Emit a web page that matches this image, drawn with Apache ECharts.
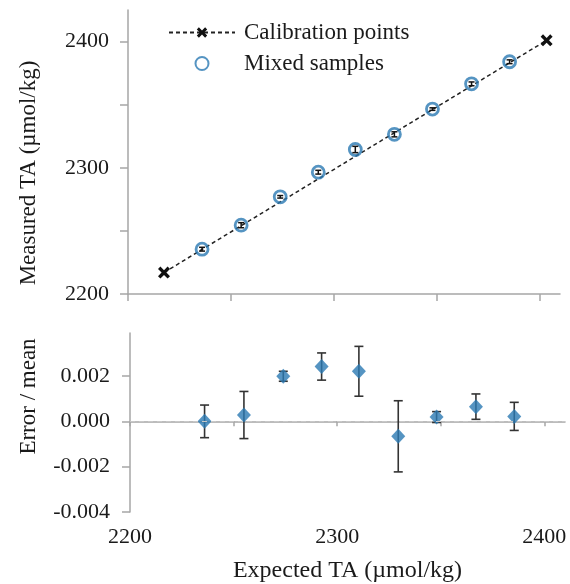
<!DOCTYPE html>
<html>
<head>
<meta charset="utf-8">
<script src="https://cdn.jsdelivr.net/npm/echarts@6/dist/echarts.min.js"></script>
<style>
  html, body { margin: 0; padding: 0; background: #fff; }
  #chart { width: 570px; height: 584px; }
</style>
</head>
<body>
<div id="chart"></div>
<script>
// calibration points (expected, measured)
const calibExpected = [2217.5, 2403.5];
const calibMeasured = [2217, 2401];

// mixed samples
const expected = [2236, 2255, 2274, 2292.5, 2310.5, 2329.5, 2348, 2367, 2385.5];
const measured = [2235.5, 2254.5, 2277, 2296.5, 2314.5, 2326.5, 2346.5, 2366.5, 2384];
const measuredErr = [1.5, 2, 1, 1.5, 2.5, 2, 1, 1.5, 1.5];

// error / mean with its spread
const relErr = [0.0000, 0.00028, 0.00199, 0.00242, 0.00221, -0.00066, 0.00019, 0.00065, 0.00022];
const relErrSd = [0.00072, 0.00104, 0.00022, 0.0006, 0.0011, 0.00157, 0.00024, 0.00056, 0.00062];

const xTicks = [2200, 2250, 2300, 2350, 2400];
const xLabels = [2200, 2300, 2400];
const yTopTicks = [2200, 2250, 2300, 2350, 2400];
const yTopLabels = [2200, 2300, 2400];
const yBotTicks = [-0.004, -0.002, 0, 0.002];

const FONT = "'Liberation Serif', 'DejaVu Serif', serif";
const BLUE = '#2b79b3';
const AXIS = '#a6a6a6';
const TXT = '#1a1a1a';

// small X marker
const crossPath = 'path://M2,0 L5,3 L8,0 L10,2 L7,5 L10,8 L8,10 L5,7 L2,10 L0,8 L3,5 L0,2 Z';

function errBar(color, cap, lw) {
    return function (params, api) {
        const x = api.value(0);
        const p1 = api.coord([x, api.value(1)]);
        const p2 = api.coord([x, api.value(2)]);
        const style = { stroke: color, lineWidth: lw };
        return {
            type: 'group',
            children: [
                { type: 'line', shape: { x1: p1[0], y1: p1[1], x2: p2[0], y2: p2[1] }, style: style },
                { type: 'line', shape: { x1: p1[0] - cap, y1: p1[1], x2: p1[0] + cap, y2: p1[1] }, style: style },
                { type: 'line', shape: { x1: p2[0] - cap, y1: p2[1], x2: p2[0] + cap, y2: p2[1] }, style: style }
            ]
        };
    };
}

const axisBase = {
    axisLine: { show: true, lineStyle: { color: AXIS, width: 1.5 } },
    axisTick: { show: true, inside: false, length: 7, lineStyle: { color: AXIS, width: 1.5 } },
    splitLine: { show: false },
    axisLabel: { color: TXT, fontFamily: FONT, fontSize: 22, formatter: v => String(v) },
    nameTextStyle: { color: TXT, fontFamily: FONT, fontSize: 23 }
};

const chart = echarts.init(document.getElementById('chart'));

const option = {
    animation: false,
    backgroundColor: '#fff',
    textStyle: { fontFamily: FONT },
    legend: {
        orient: 'vertical',
        left: 163,
        top: 16,
        itemWidth: 66,
        itemHeight: 13,
        itemGap: 8,
        textStyle: { fontFamily: FONT, fontSize: 23, color: TXT, lineHeight: 23, padding: [0, 0, 0, 4] },
        data: ['Calibration points', 'Mixed samples']
    },
    grid: [
        { left: 128, right: 10, top: 10, bottom: 290 },
        { left: 130, right: 5, top: 333, bottom: 72 }
    ],
    xAxis: [
        Object.assign({}, axisBase, {
            type: 'value', gridIndex: 0, min: 2200, max: 2410,
            axisTick: Object.assign({}, axisBase.axisTick, { customValues: xTicks }),
            axisLabel: { show: false }
        }),
        Object.assign({}, axisBase, {
            type: 'value', gridIndex: 1, min: 2200, max: 2410,
            axisTick: Object.assign({}, axisBase.axisTick, { customValues: xTicks, length: 5 }),
            axisLabel: Object.assign({}, axisBase.axisLabel, { customValues: xLabels, margin: 14 }),
            name: 'Expected TA (µmol/kg)',
            nameLocation: 'middle',
            nameGap: 47,
            nameTextStyle: Object.assign({}, axisBase.nameTextStyle, { fontSize: 24 })
        })
    ],
    yAxis: [
        Object.assign({}, axisBase, {
            type: 'value', gridIndex: 0, min: 2200, max: 2425,
            axisTick: Object.assign({}, axisBase.axisTick, { customValues: yTopTicks, length: 8 }),
            axisLabel: Object.assign({}, axisBase.axisLabel, { customValues: yTopLabels, margin: 19 }),
            name: 'Measured TA (µmol/kg)',
            nameLocation: 'middle',
            nameGap: 88,
            nameTextStyle: Object.assign({}, axisBase.nameTextStyle, { padding: [0, 42, 0, 0] })
        }),
        Object.assign({}, axisBase, {
            type: 'value', gridIndex: 1, min: -0.004, max: 0.0039,
            axisTick: Object.assign({}, axisBase.axisTick, { customValues: yBotTicks, length: 8 }),
            axisLabel: Object.assign({}, axisBase.axisLabel, {
                customValues: yBotTicks, margin: 20,
                formatter: function (v) { return v.toFixed(3); }
            }),
            name: 'Error / mean',
            nameLocation: 'middle',
            nameGap: 90,
            nameTextStyle: Object.assign({}, axisBase.nameTextStyle, { padding: [0, 0, 0, 52] })
        })
    ],
    series: [
        {
            name: 'Calibration points',
            type: 'line',
            xAxisIndex: 0, yAxisIndex: 0,
            data: calibExpected.map((x, i) => [x, calibMeasured[i]]),
            symbol: crossPath,
            symbolSize: 12,
            itemStyle: { color: '#111' },
            lineStyle: { color: '#222', width: 1.5, type: [4, 3] },
            z: 2
        },
        {
            name: 'Mixed samples',
            type: 'scatter',
            xAxisIndex: 0, yAxisIndex: 0,
            data: expected.map((x, i) => [x, measured[i]]),
            symbol: 'circle',
            symbolSize: 12,
            itemStyle: { color: 'rgba(0,0,0,0)', borderColor: BLUE, borderWidth: 2.8 },
            z: 3
        },
        {
            type: 'custom',
            xAxisIndex: 0, yAxisIndex: 0,
            data: expected.map((x, i) => [x, measured[i] - measuredErr[i], measured[i] + measuredErr[i]]),
            renderItem: errBar('#111', 3, 1.5),
            z: 4,
            silent: true
        },
        {
            type: 'custom',
            xAxisIndex: 1, yAxisIndex: 1,
            data: expected.map((x, i) => [x, relErr[i] - relErrSd[i], relErr[i] + relErrSd[i]]),
            renderItem: errBar('#333', 4.5, 1.6),
            z: 3,
            silent: true
        },
        {
            type: 'scatter',
            xAxisIndex: 1, yAxisIndex: 1,
            data: expected.map((x, i) => [x, relErr[i]]),
            symbol: 'diamond',
            symbolSize: [14, 15],
            itemStyle: { color: BLUE },
            z: 4,
            markLine: {
                silent: true,
                symbol: 'none',
                label: { show: false },
                lineStyle: { color: '#c8c8c8', type: [5, 4], width: 1.2 },
                data: [{ yAxis: 0 }]
            }
        }
    ]
};

chart.setOption(option);
</script>
</body>
</html>
